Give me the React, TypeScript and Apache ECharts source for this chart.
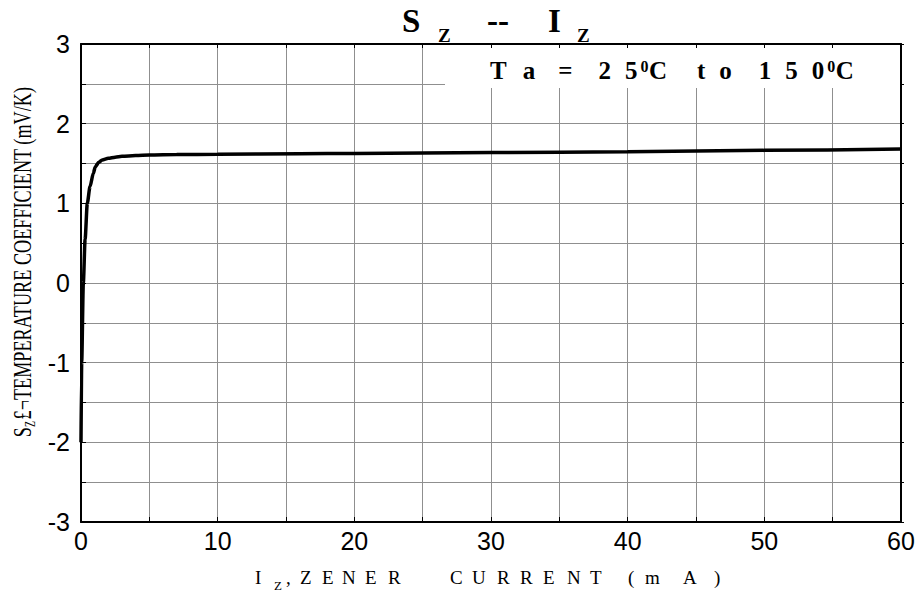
import React, { useEffect, useRef } from "react";
import * as echarts from "echarts";

// ---- data ----
const currents = [0, 0.05, 0.17, 0.3, 0.46, 0.66, 0.9, 1.05, 1.3, 1.55, 2, 2.5, 3, 4, 5, 7, 10, 16, 20, 30, 40, 50, 60];
const coeffs = [-2, -1, 0, 0.55, 1.0, 1.21, 1.377, 1.46, 1.515, 1.544, 1.565, 1.58, 1.59, 1.6, 1.607, 1.612, 1.615, 1.623, 1.627, 1.637, 1.647, 1.665, 1.682];
const xTicks = [0, 10, 20, 30, 40, 50, 60];
const yTicks = [-3, -2, -1, 0, 1, 2, 3];

const SERIF = "Liberation Serif";
const SANS = "Liberation Sans";
const GRID_GRAY = "#8f8f8f";

type Glyph = [string, number, number, number, string];

function glyphTexts(list: Glyph[], z = 20) {
  return list.map(([t, x, y, size, weight]) => ({
    type: "text",
    x,
    y,
    z,
    silent: true,
    style: {
      text: t,
      fontFamily: SERIF,
      fontSize: size,
      fontWeight: weight,
      fill: "#000",
      align: "left",
      verticalAlign: "middle",
    },
  }));
}

export default function App() {
  const ref = useRef<HTMLDivElement>(null);
  useEffect(() => {
    if (!ref.current) return;
    const chart = echarts.init(ref.current, null, { renderer: "svg" });

    const title: Glyph[] = [
      ["S", 402, 21, 33, "bold"],
      ["Z", 438, 35.5, 19, "bold"],
      ["--", 487, 21, 33, "bold"],
      ["I", 548, 21, 33, "bold"],
      ["Z", 577, 35.5, 19, "bold"],
    ];
    const note: Glyph[] = [
      ["T", 490, 70.5, 25, "bold"],
      ["a", 522.7, 70.5, 25, "bold"],
      ["=", 558.2, 70.5, 25, "bold"],
      ["2", 598.5, 70.5, 25, "bold"],
      ["5", 625, 70.5, 25, "bold"],
      ["0", 640.5, 66.5, 16, "bold"],
      ["C", 649, 70.5, 25, "bold"],
      ["t", 697, 70.5, 25, "bold"],
      ["o", 719.3, 70.5, 25, "bold"],
      ["1", 758.8, 70.5, 25, "bold"],
      ["5", 785.3, 70.5, 25, "bold"],
      ["0", 811.8, 70.5, 25, "bold"],
      ["0", 827.3, 66.5, 16, "bold"],
      ["C", 835.8, 70.5, 25, "bold"],
    ];
    const xName: Glyph[] = [
      ["I", 255, 577, 19, "normal"],
      ["Z", 274, 585, 13, "normal"],
      [",", 286, 577, 19, "normal"],
      ["Z", 300, 577, 19, "normal"],
      ["E", 322, 577, 19, "normal"],
      ["N", 342, 577, 19, "normal"],
      ["E", 365, 577, 19, "normal"],
      ["R", 388, 577, 19, "normal"],
      ["C", 450, 577, 19, "normal"],
      ["U", 472, 577, 19, "normal"],
      ["R", 497, 577, 19, "normal"],
      ["R", 520, 577, 19, "normal"],
      ["E", 543, 577, 19, "normal"],
      ["N", 567, 577, 19, "normal"],
      ["T", 590, 577, 19, "normal"],
      ["(", 628, 577, 19, "normal"],
      ["m", 645, 577, 19, "normal"],
      ["A", 683, 577, 19, "normal"],
      [")", 714, 577, 19, "normal"],
    ];

    const axisBase = {
      type: "value" as const,
      axisLine: { show: true, onZero: false, lineStyle: { color: "#000", width: 2 } },
      axisTick: { show: true, inside: true, length: 5, lineStyle: { color: "#000", width: 1 } },
      minorTick: { show: true, splitNumber: 2, length: 5, lineStyle: { color: "#000", width: 1 } },
      axisLabel: {
        fontFamily: SANS,
        fontSize: 25,
        color: "#000",
      },
    };

    chart.setOption({
      animation: false,
      backgroundColor: "#fff",
      grid: { left: 81, right: 22, top: 44, bottom: 70, containLabel: false },
      xAxis: [
        {
          ...axisBase,
          position: "bottom",
          min: xTicks[0],
          max: xTicks[xTicks.length - 1],
          interval: xTicks[1] - xTicks[0],
          axisLabel: { ...axisBase.axisLabel, margin: 6 },
          splitLine: { show: true, lineStyle: { color: GRID_GRAY, width: 1 } },
          minorSplitLine: { show: true, lineStyle: { color: GRID_GRAY, width: 1 } },
        },
        {
          ...axisBase,
          position: "top",
          min: xTicks[0],
          max: xTicks[xTicks.length - 1],
          interval: xTicks[1] - xTicks[0],
          axisTick: { ...axisBase.axisTick, length: 4 },
          minorTick: { ...axisBase.minorTick, length: 4 },
          axisLabel: { show: false },
          splitLine: { show: false },
        },
      ],
      yAxis: [
        {
          ...axisBase,
          position: "left",
          min: yTicks[0],
          max: yTicks[yTicks.length - 1],
          interval: yTicks[1] - yTicks[0],
          axisLabel: { ...axisBase.axisLabel, margin: 11 },
          splitLine: { show: true, lineStyle: { color: GRID_GRAY, width: 1 } },
          minorSplitLine: { show: true, lineStyle: { color: GRID_GRAY, width: 1 } },
        },
        {
          ...axisBase,
          position: "right",
          min: yTicks[0],
          max: yTicks[yTicks.length - 1],
          interval: yTicks[1] - yTicks[0],
          axisTick: { ...axisBase.axisTick, inside: false, length: 3 },
          minorTick: { ...axisBase.minorTick, length: 3 },
          axisLabel: { show: false },
          splitLine: { show: false },
        },
      ],
      series: [
        {
          type: "line",
          xAxisIndex: 0,
          yAxisIndex: 0,
          data: currents.map((c, i) => [c, coeffs[i]]),
          showSymbol: false,
          smooth: 0.25,
          smoothMonotone: "x",
          lineStyle: { color: "#000", width: 3.5 },
          z: 3,
        },
      ],
      graphic: [
        {
          type: "rect",
          z: 10,
          silent: true,
          shape: { x: 445, y: 48, width: 455, height: 40 },
          style: { fill: "#fff" },
        },
        ...glyphTexts(title),
        ...glyphTexts(note),
        ...glyphTexts(xName),
        {
          type: "text",
          x: 22,
          y: 262,
          z: 20,
          rotation: Math.PI / 2,
          scaleX: 0.7,
          silent: true,
          style: {
            text: "{s|S}{z|Z}{t|£¬TEMPERATURE COEFFICIENT (mV/K)}",
            align: "center",
            verticalAlign: "middle",
            fill: "#000",
            rich: {
              s: { fontFamily: SERIF, fontSize: 26, lineHeight: 30, verticalAlign: "middle" },
              z: { fontFamily: SERIF, fontSize: 14, lineHeight: 30, verticalAlign: "bottom", padding: [0, 2, 0, 0] },
              t: { fontFamily: SERIF, fontSize: 26, lineHeight: 30, verticalAlign: "middle" },
            },
          },
        },
      ],
    });
    return () => chart.dispose();
  }, []);
  return (
    <div
      ref={ref}
      style={{ position: "fixed", left: 0, top: 0, width: 923, height: 592 }}
    />
  );
}
